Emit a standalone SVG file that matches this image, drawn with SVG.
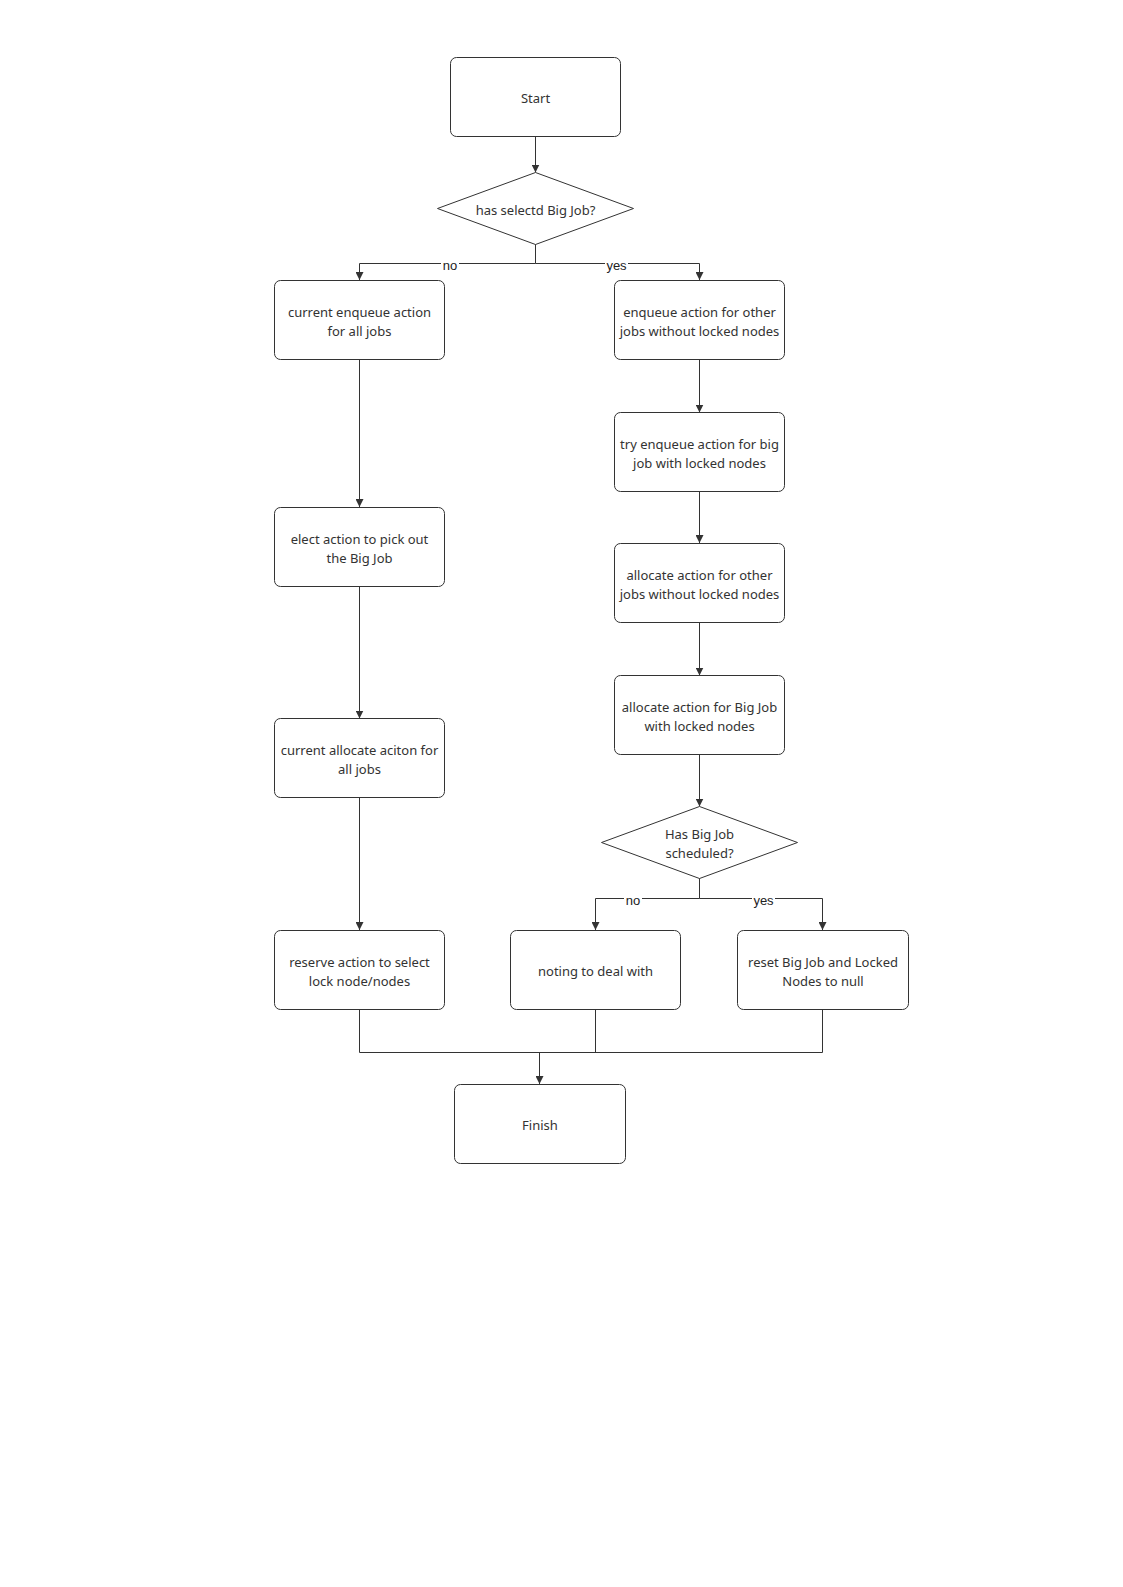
<svg xmlns="http://www.w3.org/2000/svg" width="1123" height="1587" viewBox="0 0 1123 1587">
<style>
.box{fill:#fff;stroke:#333;stroke-width:1}
.t{font-family:"Noto Sans","Open Sans",sans-serif;font-size:13px;fill:#333;text-anchor:middle}
.c{fill:none;stroke:#333;stroke-width:1}
.lbl{font-family:"Liberation Sans",Arial,sans-serif;font-size:13px;fill:#222;text-anchor:middle}
.lb{fill:#fff}
</style>
<defs>
<marker id="ah" viewBox="0 0 10 10" refX="10" refY="5" markerWidth="8" markerHeight="8" markerUnits="userSpaceOnUse" orient="auto">
<path d="M0,0 L10,5 L0,10 z" fill="#333"/>
</marker>
</defs>
<rect width="1123" height="1587" fill="#fff"/>
<g id="connectors">
<path class="c" d="M535.5,136.5 V172.5" marker-end="url(#ah)"/>
<path class="c" d="M535.5,244 V263.5 H359.5 V280" marker-end="url(#ah)"/>
<path class="c" d="M535.5,263.5 H699.5 V280" marker-end="url(#ah)"/>
<path class="c" d="M359.5,359.5 V507" marker-end="url(#ah)"/>
<path class="c" d="M359.5,586.5 V718.5" marker-end="url(#ah)"/>
<path class="c" d="M359.5,798 V930" marker-end="url(#ah)"/>
<path class="c" d="M699.5,359.5 V412.5" marker-end="url(#ah)"/>
<path class="c" d="M699.5,491 V543" marker-end="url(#ah)"/>
<path class="c" d="M699.5,623 V675.5" marker-end="url(#ah)"/>
<path class="c" d="M699.5,754 V806.5" marker-end="url(#ah)"/>
<path class="c" d="M699.5,878 V898.5 H595.5 V930" marker-end="url(#ah)"/>
<path class="c" d="M699.5,898.5 H822.5 V930" marker-end="url(#ah)"/>
<path class="c" d="M359.5,1009 V1052.5 H822.5 V1009"/>
<path class="c" d="M595.5,1009 V1052.5"/>
<path class="c" d="M539.5,1052.5 V1084" marker-end="url(#ah)"/>
<rect class="lb" x="441" y="259" width="18" height="13"/>
<text class="lbl" x="450" y="270">no</text>
<rect class="lb" x="605" y="259" width="23" height="13"/>
<text class="lbl" x="616.5" y="270">yes</text>
<rect class="lb" x="624" y="894" width="18" height="13"/>
<text class="lbl" x="633" y="905">no</text>
<rect class="lb" x="752" y="894" width="23" height="13"/>
<text class="lbl" x="763.5" y="905">yes</text>
</g>
<g id="start">
<rect class="box" x="450.5" y="57.5" width="170" height="79" rx="6"/>
<text class="t" x="535.5" y="103">Start</text>
</g>
<g id="d1">
<polygon class="box" points="535.5,172.5 633.5,208.5 535.5,244.5 437.5,208.5"/>
<text class="t" x="535.5" y="214.5">has selectd Big Job?</text>
</g>
<g id="n_enqueue_all">
<rect class="box" x="274.5" y="280.5" width="170" height="79" rx="6"/>
<text class="t" x="359.5" y="317">current enqueue action</text>
<text class="t" x="359.5" y="336">for all jobs</text>
</g>
<g id="n_elect">
<rect class="box" x="274.5" y="507.5" width="170" height="79" rx="6"/>
<text class="t" x="359.5" y="544">elect action to pick out</text>
<text class="t" x="359.5" y="563">the Big Job</text>
</g>
<g id="n_alloc_all">
<rect class="box" x="274.5" y="718.5" width="170" height="79" rx="6"/>
<text class="t" x="359.5" y="755">current allocate aciton for</text>
<text class="t" x="359.5" y="774">all jobs</text>
</g>
<g id="n_reserve">
<rect class="box" x="274.5" y="930.5" width="170" height="79" rx="6"/>
<text class="t" x="359.5" y="967">reserve action to select</text>
<text class="t" x="359.5" y="986">lock node/nodes</text>
</g>
<g id="n_enqueue_other">
<rect class="box" x="614.5" y="280.5" width="170" height="79" rx="6"/>
<text class="t" x="699.5" y="317">enqueue action for other</text>
<text class="t" x="699.5" y="336">jobs without locked nodes</text>
</g>
<g id="n_try_enqueue">
<rect class="box" x="614.5" y="412.5" width="170" height="79" rx="6"/>
<text class="t" x="699.5" y="449">try enqueue action for big</text>
<text class="t" x="699.5" y="468">job with locked nodes</text>
</g>
<g id="n_alloc_other">
<rect class="box" x="614.5" y="543.5" width="170" height="79" rx="6"/>
<text class="t" x="699.5" y="580">allocate action for other</text>
<text class="t" x="699.5" y="599">jobs without locked nodes</text>
</g>
<g id="n_alloc_big">
<rect class="box" x="614.5" y="675.5" width="170" height="79" rx="6"/>
<text class="t" x="699.5" y="712">allocate action for Big Job</text>
<text class="t" x="699.5" y="731">with locked nodes</text>
</g>
<g id="d2">
<polygon class="box" points="699.5,806.5 797.5,842.5 699.5,878.5 601.5,842.5"/>
<text class="t" x="699.5" y="839">Has Big Job</text>
<text class="t" x="699.5" y="858">scheduled?</text>
</g>
<g id="n_nothing">
<rect class="box" x="510.5" y="930.5" width="170" height="79" rx="6"/>
<text class="t" x="595.5" y="976">noting to deal with</text>
</g>
<g id="n_reset">
<rect class="box" x="737.5" y="930.5" width="171" height="79" rx="6"/>
<text class="t" x="823" y="967">reset Big Job and Locked</text>
<text class="t" x="823" y="986">Nodes to null</text>
</g>
<g id="finish">
<rect class="box" x="454.5" y="1084.5" width="171" height="79" rx="6"/>
<text class="t" x="540" y="1130">Finish</text>
</g>
</svg>
